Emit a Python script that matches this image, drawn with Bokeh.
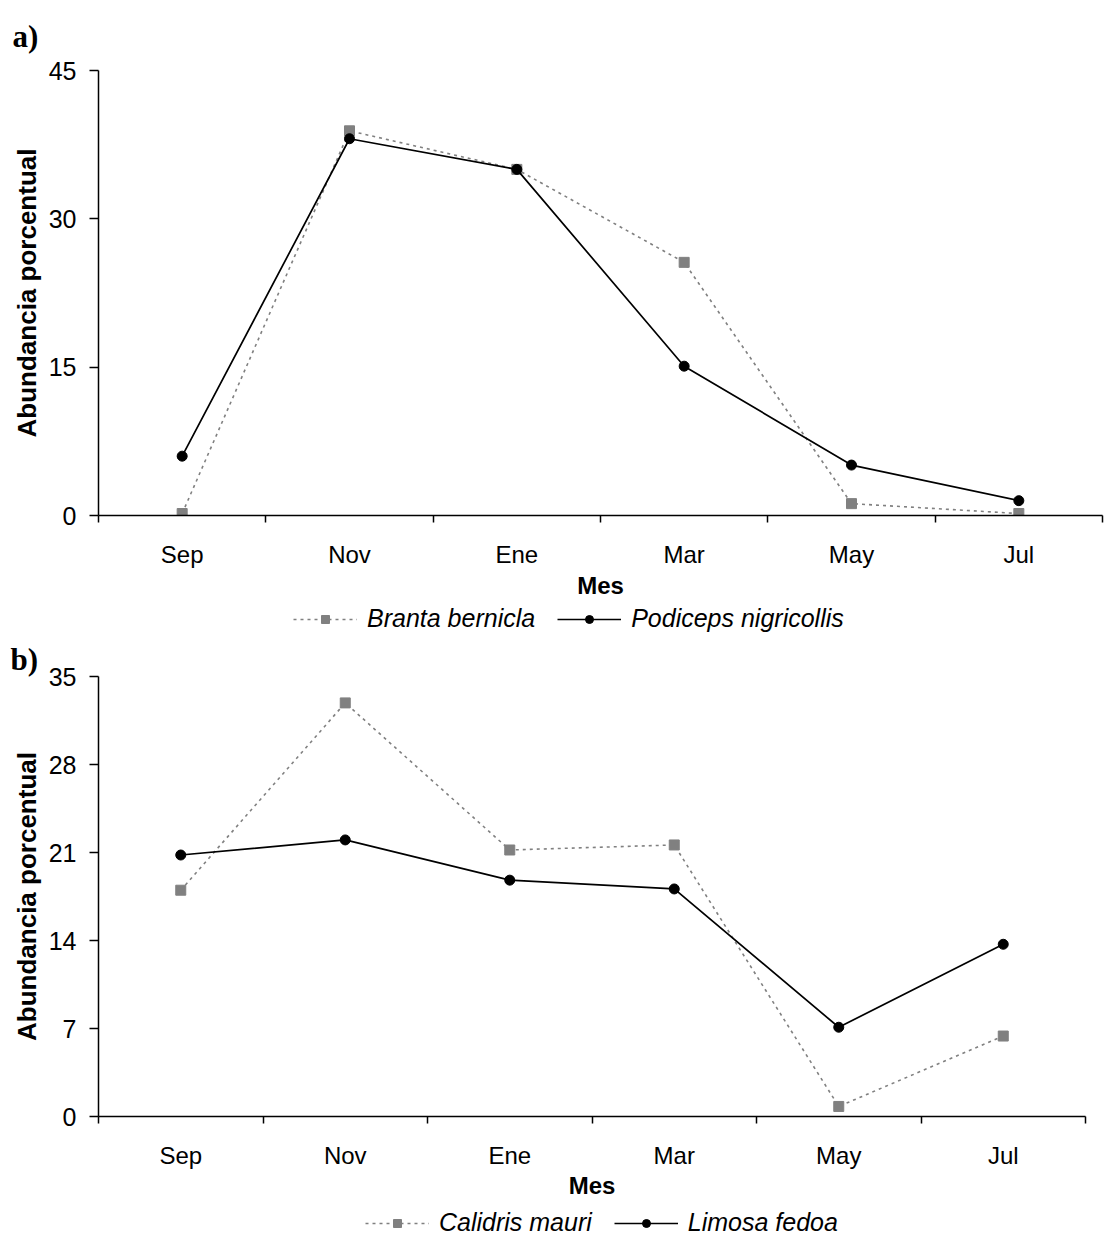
from bokeh.plotting import figure
from bokeh.models import Range1d, FixedTicker, Legend, LegendItem, Title
from bokeh.layouts import column
from bokeh.embed import file_html
from bokeh.resources import INLINE

months = ["Sep", "Nov", "Ene", "Mar", "May", "Jul"]

# Panel a
branta = [0.2, 38.9, 35.0, 25.6, 1.2, 0.2]
podiceps = [6.0, 38.1, 35.0, 15.1, 5.1, 1.5]
ticks_a = [0, 15, 30, 45]

# Panel b
calidris = [18.0, 32.9, 21.2, 21.6, 0.8, 6.4]
limosa = [20.8, 22.0, 18.8, 18.1, 7.1, 13.7]
ticks_b = [0, 7, 14, 21, 28, 35]

FONT = "Liberation Sans"
GREY = "#808080"
GREY_STYLE = dict(line_color=GREY, line_width=1.6, line_dash="3 4")
GREY_MARK = dict(marker="square", size=10, fill_color=GREY, line_color=GREY)
BLACK_STYLE = dict(line_color="black", line_width=1.7)
BLACK_MARK = dict(marker="circle", size=10, fill_color="black", line_color="black")


def panel(letter, grey_vals, black_vals, yticks, fw, fh, left, right, top, bottom,
          title_standoff, mes_standoff):
    n = len(months)
    xs = [i + 0.5 for i in range(n)]
    p = figure(frame_width=fw, frame_height=fh, output_backend="svg", toolbar_location=None,
               x_range=Range1d(0, n), y_range=Range1d(0, yticks[-1]),
               min_border_left=left, min_border_right=right,
               min_border_top=top, min_border_bottom=bottom)
    p.outline_line_color = None
    p.xgrid.visible = False
    p.ygrid.visible = False

    p.add_layout(Title(text=letter, text_font="Liberation Serif", text_font_style="bold",
                       text_font_size="31px", align="left", offset=-(left - 10),
                       standoff=title_standoff, text_color="black"), "above")

    xa = p.xaxis[0]
    xa.ticker = FixedTicker(ticks=xs, minor_ticks=list(range(n + 1)))
    xa.major_label_overrides = {x: m for x, m in zip(xs, months)}
    xa.major_tick_out = 0
    xa.major_tick_in = 0
    xa.minor_tick_out = 7
    xa.minor_tick_in = 0
    xa.minor_tick_line_color = "black"
    xa.minor_tick_line_width = 1.5
    xa.major_label_standoff = 18
    xa.major_label_text_font = FONT
    xa.major_label_text_font_size = "24px"
    xa.major_label_text_color = "black"
    xa.axis_line_color = "black"
    xa.axis_line_width = 1.5
    xa.axis_label = "Mes"
    xa.axis_label_text_font = FONT
    xa.axis_label_text_font_style = "bold"
    xa.axis_label_text_font_size = "24px"
    xa.axis_label_text_color = "black"
    xa.axis_label_standoff = mes_standoff

    ya = p.yaxis[0]
    ya.ticker = FixedTicker(ticks=yticks)
    ya.major_tick_out = 9
    ya.major_tick_in = 0
    ya.minor_tick_line_color = None
    ya.major_tick_line_color = "black"
    ya.major_tick_line_width = 1.5
    ya.axis_line_color = "black"
    ya.axis_line_width = 1.5
    ya.major_label_standoff = 13
    ya.major_label_text_font = FONT
    ya.major_label_text_font_size = "25px"
    ya.major_label_text_color = "black"
    ya.axis_label = "Abundancia porcentual"
    ya.axis_label_text_font = FONT
    ya.axis_label_text_font_style = "bold"
    ya.axis_label_text_font_size = "26px"
    ya.axis_label_text_color = "black"
    ya.axis_label_standoff = 4

    p.line(xs, grey_vals, **GREY_STYLE)
    p.scatter(xs, grey_vals, **GREY_MARK)
    p.line(xs, black_vals, **BLACK_STYLE)
    p.scatter(xs, black_vals, **BLACK_MARK)
    return p


def legend_fig(grey_vals, black_vals, grey_name, black_name, width, height, x0, y0):
    # legend strip below a panel; the series are plotted outside the visible x range,
    # so only the legend samples are seen
    n = len(months)
    xs = [i + 0.5 for i in range(n)]
    p = figure(width=width, height=height, output_backend="svg", toolbar_location=None,
               x_range=Range1d(-3, -2), y_range=Range1d(0, 1), min_border=0)
    p.axis.visible = False
    p.xgrid.visible = False
    p.ygrid.visible = False
    p.outline_line_color = None
    gl = p.line(xs, grey_vals, **GREY_STYLE)
    gs = p.scatter(xs, grey_vals, **GREY_MARK)
    bl = p.line(xs, black_vals, **BLACK_STYLE)
    bs = p.scatter(xs, black_vals, **BLACK_MARK)
    legend = Legend(items=[LegendItem(label=grey_name, renderers=[gl, gs]),
                           LegendItem(label=black_name, renderers=[bl, bs])],
                    orientation="horizontal", location=(x0, y0),
                    border_line_color=None, background_fill_alpha=0,
                    label_text_font=FONT, label_text_font_style="italic",
                    label_text_font_size="25px", label_text_color="black",
                    glyph_width=64, glyph_height=20, spacing=22, label_standoff=10,
                    padding=0, margin=0)
    p.add_layout(legend, "center")
    return p


pa = panel("a)", branta, podiceps, ticks_a, fw=1004, fh=445, left=96, right=10,
           top=70, bottom=80, title_standoff=33, mes_standoff=1)
la = legend_fig(branta, podiceps, "Branta bernicla", "Podiceps nigricollis", 1110, 38, 195, 6)
pb = panel("b)", calidris, limosa, ticks_b, fw=987, fh=440, left=98, right=25,
           top=35, bottom=82, title_standoff=0, mes_standoff=0)
lb = legend_fig(calidris, limosa, "Calidris mauri", "Limosa fedoa", 1110, 40, 267, 4)

layout = column(pa, la, pb, lb, spacing=0)
open("out.html", "w").write(file_html(layout, INLINE))
